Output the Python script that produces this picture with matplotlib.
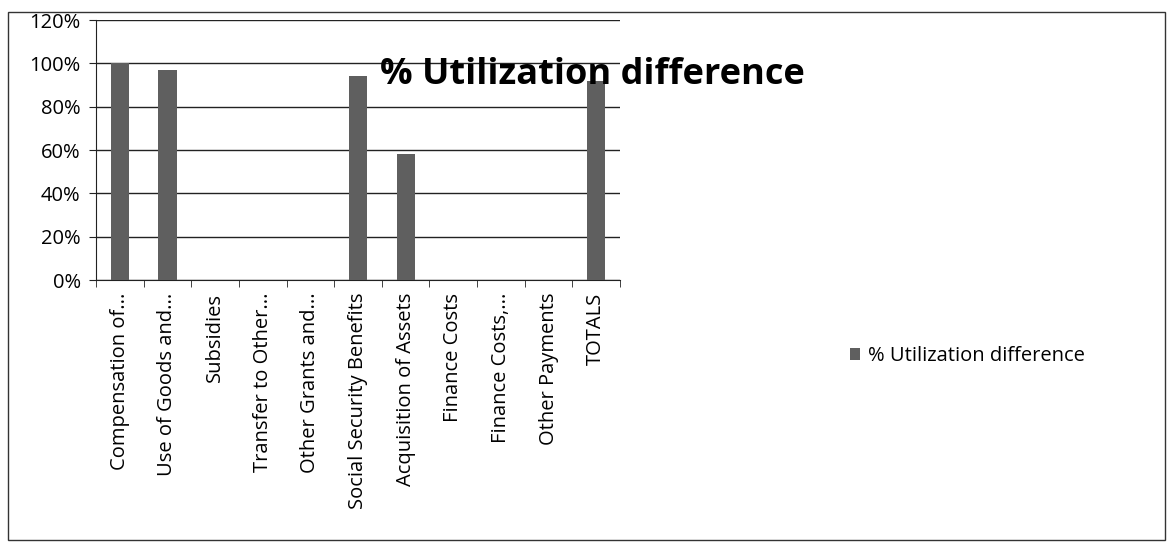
import matplotlib
matplotlib.use("Agg")
import matplotlib.pyplot as plt
from matplotlib.patches import Rectangle
from matplotlib.ticker import FixedLocator, PercentFormatter

categories = ["Compensation of...", "Use of Goods and...", "Subsidies", "Transfer to Other...",
              "Other Grants and...", "Social Security Benefits", "Acquisition of Assets",
              "Finance Costs", "Finance Costs,...", "Other Payments", "TOTALS"]
values = [100, 97, 0, 0, 0, 94, 58, 0, 0, 0, 92]
series_name = "% Utilization difference"

plt.rcParams['font.family'] = ['Open Sans', 'DejaVu Sans']

fig = plt.figure(figsize=(11.69, 5.51), dpi=100)
fig.patches.append(Rectangle((8/1169, 11/551), 1157/1169, 528/551, transform=fig.transFigure,
                             fill=False, edgecolor='#333333', linewidth=1.0))
ax = fig.add_axes([96/1169, 1-280/551, 524/1169, 260/551])
x = range(len(categories))
ax.bar(x, values, width=0.38, color='#5f5f5f', label=series_name, zorder=3)
ax.set_xlim(-0.5, len(categories)-0.5)
ax.set_ylim(0, 120)
ax.set_yticks(range(0, 121, 20))
ax.yaxis.set_major_formatter(PercentFormatter(decimals=0))
ax.grid(axis='y', color='#222222', linewidth=1.0, zorder=0)
ax.set_xticks(list(x))
ax.set_xticklabels(categories, rotation=90, fontsize=14.5)
ax.xaxis.set_minor_locator(FixedLocator([i - 0.5 for i in range(len(categories)+1)]))
ax.tick_params(axis='x', which='major', length=0, pad=9)
ax.tick_params(axis='x', which='minor', length=5, direction='out', color='#222222')
ax.tick_params(axis='y', length=5, direction='out', labelsize=14.5, color='#222222', pad=6)
for s in ['top', 'right']:
    ax.spines[s].set_visible(False)
for s in ['left', 'bottom']:
    ax.spines[s].set_color('#222222')
fig.text(592/1169, 1-75/551, series_name, ha='center', va='center', fontsize=26, fontweight='bold')
fig.legend(handles=ax.get_legend_handles_labels()[0], labels=[series_name], loc='center left',
           bbox_to_anchor=(832/1169, 1-356/551), frameon=False, fontsize=14.5,
           handlelength=0.5, handleheight=0.5, handletextpad=0.4)
fig.savefig("out.png", dpi=100)
